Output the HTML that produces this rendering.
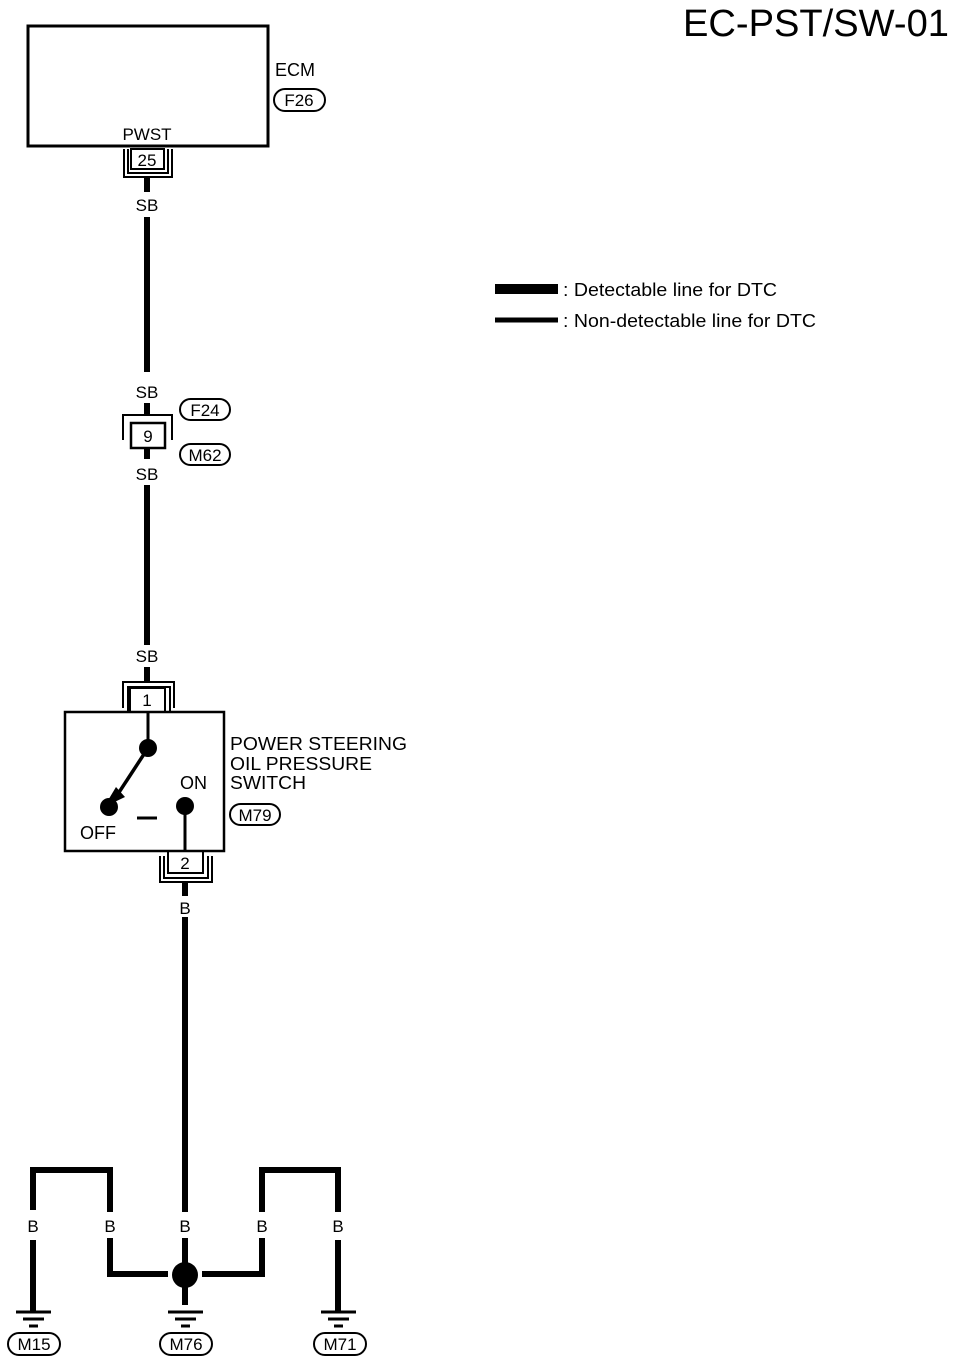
<!DOCTYPE html><html><head><style>body{margin:0;background:#fff}svg{display:block}text{font-family:"Liberation Sans",sans-serif;fill:#000}</style></head><body>
<svg width="960" height="1364" viewBox="0 0 960 1364" xmlns="http://www.w3.org/2000/svg">
<g fill="none" stroke="#000">
<rect x="28" y="26" width="240" height="120" stroke-width="3"/>
<rect x="274" y="89" width="51" height="22" rx="11" stroke-width="2"/>
<rect x="180" y="399" width="50" height="21" rx="10.5" stroke-width="2"/>
<rect x="180" y="444" width="50" height="21" rx="10.5" stroke-width="2"/>
<rect x="230" y="804" width="50" height="21" rx="10.5" stroke-width="2"/>
<rect x="131" y="149" width="33" height="20" stroke-width="2"/>
<path d="M124 149V177H172V149M128 149V173H168V149" stroke-width="2"/>
<path d="M123 440V415H172V440" stroke-width="2"/>
<rect x="131" y="423" width="34" height="25" stroke-width="2.5"/>
<path d="M123 708V682H174V708M128 712V687H170V712" stroke-width="2"/>
<rect x="130" y="688" width="35" height="24" stroke-width="2"/>
<rect x="65" y="712" width="159" height="139" stroke-width="2.5"/>
<rect x="168" y="851" width="35" height="22" stroke-width="2"/>
<path d="M160 856V882H212V856M164 856V878H208V856" stroke-width="2"/>
<g stroke-width="6">
<path d="M147 177V192M147 217V372M147 403V415M147 448V459M147 485V645M147 667V682"/>
<path d="M185 882V896M185 917V1212M185 1238V1265M185 1286V1305"/>
<path d="M33 1210V1170H110V1212M110 1238V1274H168M202 1274H262V1238M262 1212V1170H338V1212"/>
<path d="M33 1240V1312M338 1240V1312"/>
</g>
<path d="M148 712V748M185 806V851M137 818H157" stroke-width="3"/>
<path d="M148 748L114 800" stroke-width="3.5"/>
<g stroke-width="3">
<path d="M16 1312H51M23 1319H44M29 1326H38"/>
<path d="M168 1312H203M175 1319H196M181 1326H190"/>
<path d="M321 1312H356M328 1319H349M334 1326H343"/>
</g>
<g stroke-width="2">
<rect x="8" y="1333" width="52" height="22" rx="11"/>
<rect x="160" y="1333" width="52" height="22" rx="11"/>
<rect x="314" y="1333" width="52" height="22" rx="11"/>
</g>
<path d="M495 289H558" stroke-width="10"/>
<path d="M495 320H558" stroke-width="5"/>
</g>
<circle cx="148" cy="748" r="9"/>
<circle cx="109" cy="807" r="9"/>
<circle cx="185" cy="806" r="9"/>
<path d="M104 807L116 787L125 797Z"/>
<circle cx="185" cy="1275" r="13"/>
<g font-size="17" text-anchor="middle">
<text x="147" y="140">PWST</text>
<text x="147" y="166">25</text>
<text x="147" y="211">SB</text>
<text x="147" y="398">SB</text>
<text x="148" y="442">9</text>
<text x="147" y="480">SB</text>
<text x="147" y="662">SB</text>
<text x="147" y="706">1</text>
<text x="185" y="869">2</text>
<text x="185" y="914">B</text>
<text x="33" y="1232">B</text><text x="110" y="1232">B</text><text x="185" y="1232">B</text><text x="262" y="1232">B</text><text x="338" y="1232">B</text>
<text x="299" y="106">F26</text>
<text x="205" y="416">F24</text>
<text x="205" y="461">M62</text>
<text x="255" y="821">M79</text>
<text x="34" y="1350">M15</text>
<text x="186" y="1350">M76</text>
<text x="340" y="1350">M71</text>
</g>
<g font-size="18">
<text x="275" y="76">ECM</text>
<text x="230" y="750" textLength="177" lengthAdjust="spacingAndGlyphs">POWER STEERING</text>
<text x="230" y="770" textLength="142" lengthAdjust="spacingAndGlyphs">OIL PRESSURE</text>
<text x="230" y="789" textLength="76" lengthAdjust="spacingAndGlyphs">SWITCH</text>
<text x="180" y="789">ON</text>
<text x="80" y="839">OFF</text>
<text x="563" y="296" textLength="214" lengthAdjust="spacingAndGlyphs">: Detectable line for DTC</text>
<text x="563" y="327" textLength="253" lengthAdjust="spacingAndGlyphs">: Non-detectable line for DTC</text>
</g>
<text x="949" y="36" font-size="38" text-anchor="end" textLength="266" lengthAdjust="spacingAndGlyphs">EC-PST/SW-01</text>
</svg></body></html>
